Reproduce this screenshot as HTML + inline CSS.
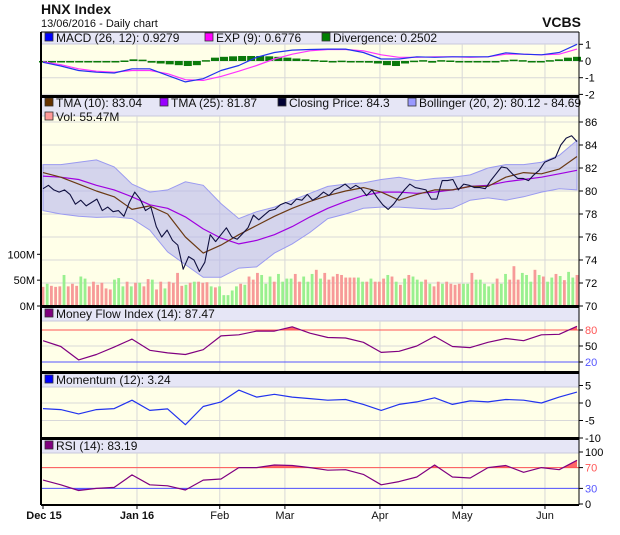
<!DOCTYPE html>
<html><head><meta charset="utf-8">
<style>
body{margin:0;background:#fff;}
svg{display:block;font-family:"Liberation Sans",Arial,sans-serif;}
</style></head>
<body>
<svg id="c" width="620" height="535" viewBox="0 0 620 535" xmlns="http://www.w3.org/2000/svg">
<text x="41" y="14" font-size="14" font-weight="bold" fill="#111">HNX Index</text>
<text x="41" y="27" font-size="11" fill="#111">13/06/2016 - Daily chart</text>
<text x="581" y="27" font-size="14" font-weight="bold" fill="#111" text-anchor="end">VCBS</text>
<g id="g"></g>
</svg>
<script>
// ---- data ----
var monthLabels=["Dec 15","Jan 16","Feb","Mar","Apr","May","Jun"];
var close=[80.2,80.5,80.1,79.9,80.1,79.7,78.85,79.2,78.7,79.0,79.3,78.3,78.6,78.2,78.3,77.8,79.0,79.9,79.3,78.3,78.6,76.9,76.0,76.6,75.7,75.3,73.2,74.3,74.0,73.0,73.8,76.2,75.6,76.2,76.8,76.0,75.8,76.3,76.8,77.9,77.5,77.9,78.3,78.4,78.8,79.0,78.8,79.3,79.2,79.7,79.2,79.5,79.9,79.6,80.1,80.3,80.6,80.2,80.5,80.2,79.6,80.1,79.4,78.8,78.4,78.85,79.5,80.1,80.6,80.3,80.2,80.1,79.3,79.3,80.9,80.9,81.0,80.1,80.6,80.5,80.3,80.3,80.2,80.9,81.5,82.1,82.0,81.5,81.1,81.1,80.9,81.4,81.8,82.5,82.7,82.9,84.0,84.6,84.8,84.3];
var tma10=[81.6,81.2,80.6,80.0,79.5,78.4,78.7,78.0,76.0,74.6,75.3,76.2,77.0,77.8,78.5,79.1,79.6,80.0,80.3,79.9,79.2,79.7,80.1,80.1,80.4,80.4,81.2,81.6,81.5,81.9,83.0];
var tma25=[81.3,81.2,81.0,80.5,80.1,79.5,78.8,78.5,77.75,76.7,75.9,75.4,75.7,76.2,76.9,77.75,78.5,79.1,79.6,79.9,79.9,79.8,79.9,80.1,80.4,80.5,80.8,81.0,81.2,81.5,81.8];
var bollUpper=[82.3,82.3,82.5,82.7,82.1,80.6,79.9,80.1,80.8,80.5,78.9,77.6,78.2,78.6,79.2,79.8,80.4,80.6,80.7,81.0,81.2,80.9,81.1,81.2,81.4,82.0,82.3,82.3,82.5,83.1,84.4];
var bollLower=[78.3,78.0,77.8,77.7,77.75,77.6,76.6,74.7,73.6,72.5,72.5,73.3,73.4,74.6,75.4,76.4,77.6,78.0,78.5,78.6,78.6,78.5,78.4,78.5,79.2,79.4,79.2,79.5,79.9,80.2,80.1];
var volume=[37,43,39,37,38,60,38,43,39,57,53,38,47,41,45,34,32,51,54,38,47,38,45,45,38,52,51,32,47,34,47,45,64,39,41,45,47,47,45,46,38,36,38,21,21,30,38,43,41,57,51,64,60,43,57,47,62,47,53,53,62,47,57,47,62,70,53,64,51,57,62,60,55,55,55,55,47,47,53,47,47,53,60,57,47,41,53,60,57,51,47,51,43,38,47,43,47,43,41,43,43,43,64,51,51,43,38,43,53,43,62,51,77,51,64,60,47,70,60,57,47,55,62,58,50,66,55,60];
var volDir="rgrrrgrrrggrrrrrrgggrgrgrrgrrgrrrrgrgrrrgrgggggrgrrrgggrggggrrgggrgrrrrrrrrggrgrrrgrgrgrgggrgrrgrrrrggrgggggrggrrrgggrgrggrgrggrggr";
var macd=[-0.08,-0.3,-0.57,-0.67,-0.72,-0.47,-0.47,-0.86,-1.25,-1.06,-0.57,-0.27,0.22,0.51,0.65,0.69,0.71,0.71,0.51,0.12,0.12,0.25,0.22,0.25,0.25,0.25,0.49,0.41,0.37,0.51,1.0];
var expSig=[-0.04,-0.22,-0.47,-0.61,-0.67,-0.57,-0.57,-0.76,-1.12,-1.16,-0.92,-0.61,-0.27,0.12,0.41,0.61,0.69,0.69,0.61,0.37,0.22,0.22,0.25,0.25,0.22,0.25,0.41,0.41,0.37,0.41,0.71];
var divergence=[-0.05,-0.06,-0.07,-0.06,-0.06,-0.05,-0.05,-0.05,-0.04,0.03,0.1,0.08,-0.1,-0.15,-0.2,-0.25,-0.3,-0.25,0.05,0.2,0.25,0.28,0.3,0.3,0.3,0.28,0.25,0.2,0.15,0.1,0.06,0.03,0,0.02,0,-0.08,-0.1,-0.15,-0.25,-0.3,-0.15,0.02,0.05,-0.1,0.05,0.03,0,0,-0.05,-0.05,-0.03,0.05,0.08,0.05,-0.03,-0.03,0.05,0.1,0.2,0.25];
var mfi=[60,49,24,34,48,63,42,37,34,43,69,71,78,78,86,74,66,65,57,38,40,50,68,49,47,57,64,60,71,72,87];
var momentum=[-1.6,-1.9,-3.1,-1.9,-1.6,0.8,-2.1,-1.7,-6.2,-1.0,0.3,3.7,1.7,2.5,1.7,1.25,0.8,1.0,-0.4,-2.1,-0.4,0.3,1.5,-0.4,0.6,0.3,1.0,0.8,0,1.7,3.1];
var rsi=[46,37,26,30,32,56,37,35,27,46,48,70,70,75,74,70,65,66,57,37,43,52,75,52,50,70,74,61,70,66,84];
var priceTicks=[70,72,74,76,78,80,82,84,86];
var volTicks=[0,50,100];
var macdTicks=[-2,-1,0,1];
var mfiTicks=[20,50,80];
var momTicks=[-10,-5,0,5];
var rsiTicks=[0,30,70,100];
var monthIdx=[0,0.176,0.331,0.453,0.631,0.785,0.940];

// ---- layout ----
var NS="http://www.w3.org/2000/svg",G=document.getElementById('g');
var L=41,R=579,DL=43,DR=577;
function mk(tag,at,parent){var e=document.createElementNS(NS,tag);for(var k in at)e.setAttribute(k,at[k]);(parent||G).appendChild(e);return e;}
function xAt(i,n){return DL+i*(DR-DL)/(n-1);}
function lin(d0,d1,p0,p1){return function(v){return p0+(v-d0)*(p1-p0)/(d1-d0);};}
var yMacd=lin(0,1,61,44.3), yPrice=lin(70,86,306,122), yVol=lin(0,100,306,254.3);
var yMfi=lin(20,80,362,330), yMom=lin(0,-10,403,438), yRsi=lin(0,100,504,452);
function pts(arr,ys){return arr.map(function(v,i){return xAt(i,arr.length).toFixed(1)+","+ys(v).toFixed(1);}).join(" ");}

function panel(name,top,bot,hdrBot,ticks,ys,tickColors){
  var bg=mk('rect',{x:L,y:top,width:R-L,height:bot-top,fill:'#ffffe8'});
  
  
  var h=mk('rect',{x:L,y:top,width:R-L,height:hdrBot-top,fill:'#e6e6f6'});
  
  
  mk('line',{x1:L,x2:R,y1:hdrBot,y2:hdrBot,stroke:'#c8c8dc','stroke-width':1});
  monthIdx.forEach(function(f,i){ if(i==0)return; var x=DL+f*(DR-DL);
    var gl=mk('line',{x1:x,x2:x,y1:hdrBot,y2:bot,stroke:'#d8d8d8','stroke-width':1});
    
    
  });
  ticks.forEach(function(t,i){var y=ys(t);
    if(y>hdrBot+1&&y<bot-1) mk('line',{x1:L,x2:R,y1:y,y2:y,stroke:'#d8d8d8','stroke-width':1});
    mk('line',{x1:R,x2:R+4,y1:y,y2:y,stroke:'#000','stroke-width':1});
    var tx=mk('text',{x:R+6,y:y+4,'font-size':11,fill:(tickColors&&tickColors[i])||'#000'});
    tx.textContent=t;
    
    
  });
}
function legend(items,y,x0){var x=x0||45;items.forEach(function(it){
  var b=mk('rect',{x:x,y:y-9,width:8,height:8,fill:it[1],stroke:'#333','stroke-width':0.8});
  
  
  var t=mk('text',{x:x+11,y:y,'font-size':12,fill:'#111'});t.textContent=it[0];
  
  
  x+=it[2];});}
function line(arr,ys,color,name,w){var p=mk('polyline',{points:pts(arr,ys),fill:'none',stroke:color,'stroke-width':w||1.2,'stroke-linejoin':'round'});
  
  return p;}
function fillBand(arr,ys,thr,above,color,id){
  var ty=ys(thr);
  var cp=mk('clipPath',{id:id});
  if(above) mk('rect',{x:L,y:0,width:R-L,height:ty},cp); else mk('rect',{x:L,y:ty,width:R-L,height:600},cp);
  var d="M"+xAt(0,arr.length)+","+ty+" L"+pts(arr,ys).split(" ").join(" L")+" L"+xAt(arr.length-1,arr.length)+","+ty+" Z";
  var a=mk('path',{d:d,fill:color,'clip-path':'url(#'+id+')'});
  
  
}

// MACD panel
panel('macd',32,96,44,macdTicks,yMacd);
divergence.forEach(function(v,i){var x=xAt(i,divergence.length),y0=yMacd(0),y1=yMacd(v);
  var b=mk('rect',{x:x-4,y:Math.min(y0,y1),width:8,height:Math.max(1.5,Math.abs(y1-y0)),fill:'#0a7a0a'});
  
  });
line(expSig,yMacd,'#ff33ff','exp-signal-line');
line(macd,yMacd,'#2233ee','macd-line');
legend([["MACD (26, 12): 0.9279","#0000ff",160],["EXP (9): 0.6776","#ff00ff",117],["Divergence: 0.2502","#008000",150]],42);

// Main panel
panel('price',97,306,116,priceTicks,yPrice);
volTicks.forEach(function(t){var y=yVol(t);
  mk('line',{x1:L-4,x2:L,y1:y,y2:y,stroke:'#000'});
  var tx=mk('text',{x:L-6,y:y+4,'font-size':11,'text-anchor':'end',fill:'#000'});tx.textContent=t+"M";
  
  });
volume.forEach(function(v,i){var x=xAt(i,volume.length),y=yVol(v);
  var b=mk('rect',{x:x-1.4,y:y,width:2.8,height:306-y,fill:volDir[i]==='g'?'#99f08f':'#f79a98'});
  
  });
var bp=mk('polygon',{points:pts(bollUpper,yPrice)+" "+bollLower.map(function(v,i){return [xAt(i,bollLower.length),yPrice(v)];}).reverse().map(function(p){return p[0].toFixed(1)+","+p[1].toFixed(1);}).join(" "),fill:'#b8b8ee','fill-opacity':0.6,stroke:'#9a9af0','stroke-width':1});


line(tma25,yPrice,'#a000e0','tma25-line');
line(tma10,yPrice,'#6b3a14','tma10-line');
line(close,yPrice,'#101040','closing-price-line',1.1);
legend([["TMA (10): 83.04","#663300",115],["TMA (25): 81.87","#9900ff",118],["Closing Price: 84.3","#000033",130],["Bollinger (20, 2): 80.12 - 84.69","#9999ff",200]],107);
legend([["Vol: 55.47M","#ff9999",100]],121);

// MFI
panel('mfi',307,372,321,mfiTicks,yMfi,['#5555ff','#000','#ff5555']);
fillBand(mfi,yMfi,80,true,'#ff6666','cpm');
mk('line',{x1:L,x2:R,y1:yMfi(80),y2:yMfi(80),stroke:'#ff5555'});
mk('line',{x1:L,x2:R,y1:yMfi(20),y2:yMfi(20),stroke:'#5555ff'});
line(mfi,yMfi,'#800080','mfi-line');
legend([["Money Flow Index (14): 87.47","#800080",200]],318);

// Momentum
panel('momentum',373,438,387,momTicks,yMom);
line(momentum,yMom,'#2233ee','momentum-line');
legend([["Momentum (12): 3.24","#0000ff",200]],384);

// RSI
panel('rsi',439,504,453,rsiTicks,yRsi,['#000','#5555ff','#ff5555','#000']);
fillBand(rsi,yRsi,70,true,'#ff6666','cpr1');
fillBand(rsi,yRsi,30,false,'#6666ff','cpr2');
mk('line',{x1:L,x2:R,y1:yRsi(70),y2:yRsi(70),stroke:'#ff5555'});
mk('line',{x1:L,x2:R,y1:yRsi(30),y2:yRsi(30),stroke:'#5555ff'});
line(rsi,yRsi,'#800080','rsi-line');
legend([["RSI (14): 83.19","#800080",200]],450);

// separators and frame
[32,96.5,306.5,372.5,438.5].forEach(function(y,i){mk('line',{x1:L,x2:R,y1:y,y2:y,stroke:'#000','stroke-width':i==0?1:3});});
mk('line',{x1:L,x2:L,y1:32,y2:505,stroke:'#000','stroke-width':2});
mk('line',{x1:R,x2:R,y1:32,y2:505,stroke:'#000','stroke-width':1});
mk('line',{x1:L,x2:R,y1:505,y2:505,stroke:'#000','stroke-width':2});

// x axis labels
monthLabels.forEach(function(m,i){var x=DL+monthIdx[i]*(DR-DL);
  mk('line',{x1:x,x2:x,y1:505,y2:509,stroke:'#000'});
  var t=mk('text',{x:i==0?x+1:x,y:519,'font-size':11,'text-anchor':'middle','font-weight':(i<2?'bold':'normal'),fill:'#111'});
  t.textContent=m;
  
  });
</script>
</body></html>
